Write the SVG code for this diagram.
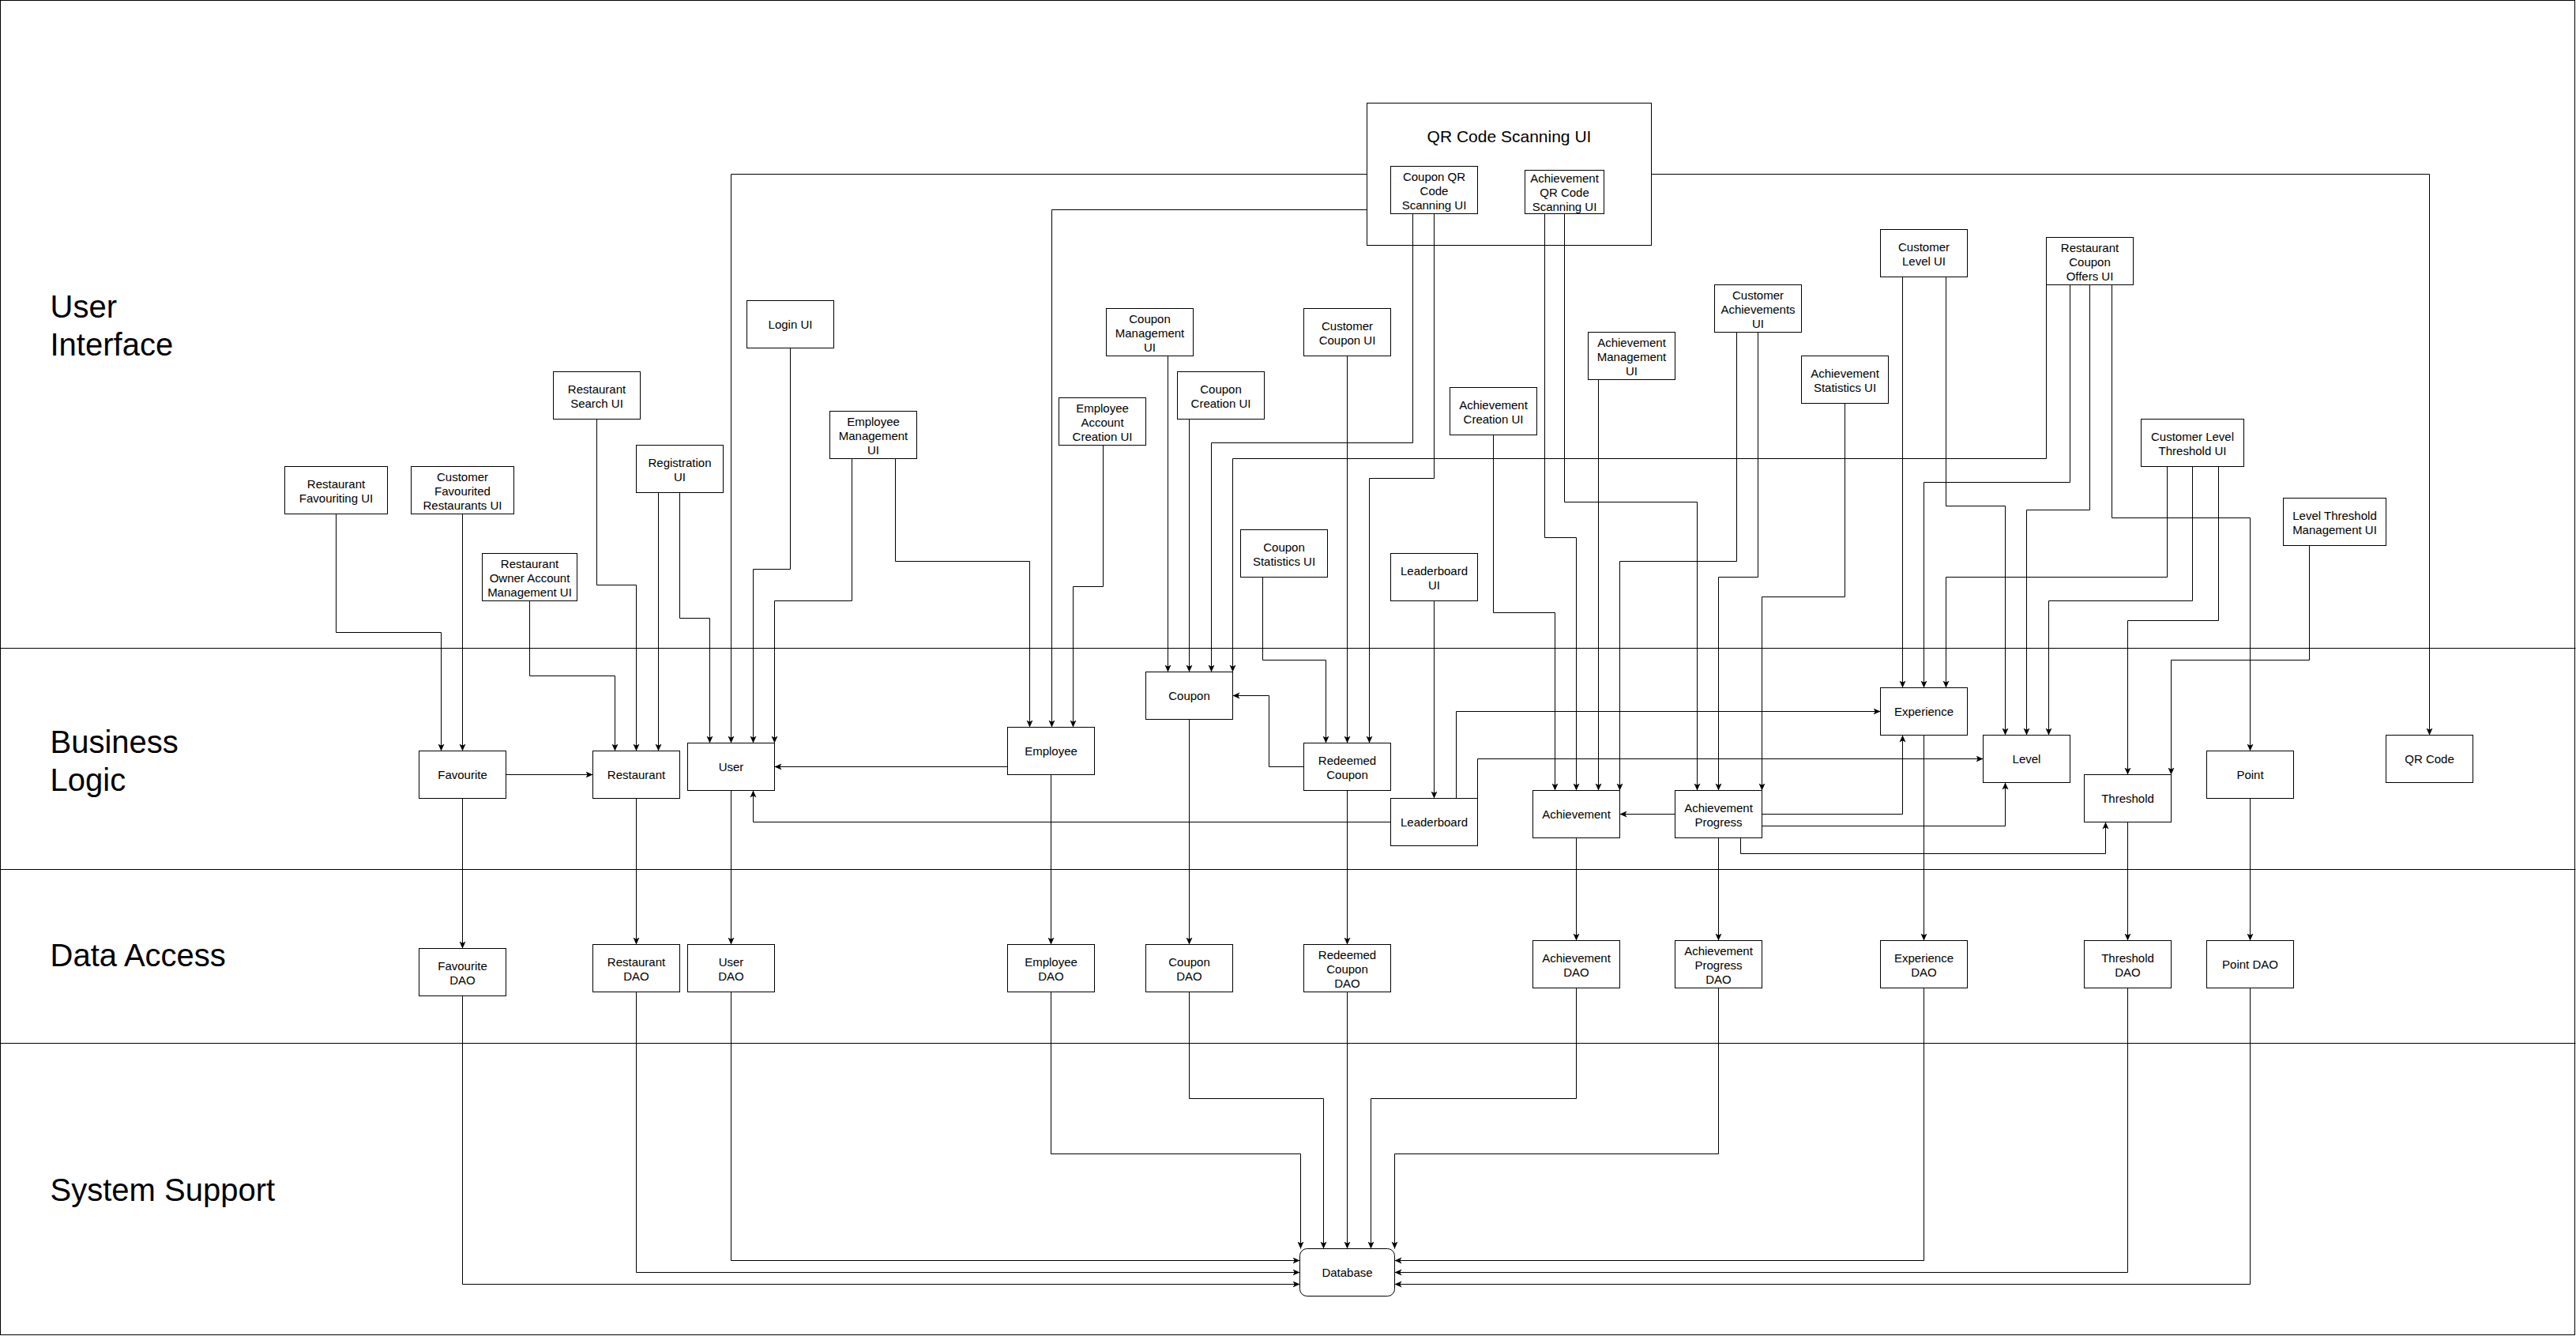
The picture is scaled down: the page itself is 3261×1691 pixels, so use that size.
<svg xmlns="http://www.w3.org/2000/svg" width="3261" height="1691" viewBox="0 0 3261 1691">
<style>
.b{fill:#fff;stroke:#000;stroke-width:1}
.c{fill:none;stroke:#000;stroke-width:1}
.e{fill:none;stroke:#000;stroke-width:1;marker-end:url(#a)}
.l{stroke:#000;stroke-width:1}
.t{font-family:"Liberation Sans",Arial,Helvetica,sans-serif;font-size:15px;text-anchor:middle;dominant-baseline:central;fill:#000}
.h{font-family:"Liberation Sans",Arial,Helvetica,sans-serif;font-size:40px;fill:#000}
.q{font-family:"Liberation Sans",Arial,Helvetica,sans-serif;font-size:21px;text-anchor:middle;dominant-baseline:central;fill:#000}
</style>
<defs>
<marker id="a" viewBox="0 0 10 10" refX="10" refY="5" markerWidth="9" markerHeight="9" markerUnits="userSpaceOnUse" orient="auto"><path d="M0,0.5 L10,5 L0,9.5 L2.5,5 z" fill="#000"/></marker>
</defs>
<rect x="0" y="0" width="3261" height="1691" fill="#fff"/>
<g transform="translate(0.5,0.5)">
<g id="lanes">
<rect x="0" y="0" width="3259" height="1689" class="c"/>
<line x1="0" y1="820" x2="3260" y2="820" class="l"/>
<line x1="0" y1="1100" x2="3260" y2="1100" class="l"/>
<line x1="0" y1="1320" x2="3260" y2="1320" class="l"/>
<text class="h" x="63" y="401">User</text>
<text class="h" x="63" y="449">Interface</text>
<text class="h" x="63" y="952">Business</text>
<text class="h" x="63" y="1000">Logic</text>
<text class="h" x="63" y="1222">Data Access</text>
<text class="h" x="63" y="1519">System Support</text>
</g>
<g id="qr-code-scanning-ui">
<rect x="1730" y="130" width="360" height="180" class="c"/>
<text class="q" x="1910" y="172">QR Code Scanning UI</text>
</g>
<g id="connectors">
<polyline class="e" points="425,650 425,800 558,800 558,950"/>
<polyline class="e" points="585,650 585,950"/>
<polyline class="e" points="670,760 670,855 778,855 778,950"/>
<polyline class="e" points="755,530 755,740 805,740 805,950"/>
<polyline class="e" points="833,623 833,950"/>
<polyline class="e" points="860,623 860,782 898,782 898,940"/>
<polyline class="e" points="1730,220 925,220 925,940"/>
<polyline class="e" points="1000,440 1000,720 953,720 953,940"/>
<polyline class="e" points="1078,580 1078,760 980,760 980,940"/>
<polyline class="e" points="1133,580 1133,710 1303,710 1303,920"/>
<polyline class="e" points="1730,265 1331,265 1331,920"/>
<polyline class="e" points="1396,563 1396,742 1358,742 1358,920"/>
<polyline class="e" points="1478,450 1478,850"/>
<polyline class="e" points="1505,530 1505,850"/>
<polyline class="e" points="1788,270 1788,560 1533,560 1533,850"/>
<polyline class="e" points="2590,360 2590,580 1560,580 1560,850"/>
<polyline class="e" points="1598,730 1598,835 1678,835 1678,940"/>
<polyline class="e" points="1705,450 1705,940"/>
<polyline class="e" points="1815,270 1815,605 1733,605 1733,940"/>
<polyline class="e" points="1815,760 1815,1010"/>
<polyline class="e" points="1890,550 1890,775 1968,775 1968,1000"/>
<polyline class="e" points="1955,270 1955,680 1995,680 1995,1000"/>
<polyline class="e" points="2023,480 2023,1000"/>
<polyline class="e" points="2198,420 2198,710 2050,710 2050,1000"/>
<polyline class="e" points="1980,270 1980,635 2148,635 2148,1000"/>
<polyline class="e" points="2225,420 2225,730 2175,730 2175,1000"/>
<polyline class="e" points="2335,510 2335,755 2230,755 2230,1000"/>
<polyline class="e" points="2408,350 2408,870"/>
<polyline class="e" points="2620,360 2620,610 2435,610 2435,870"/>
<polyline class="e" points="2743,590 2743,730 2463,730 2463,870"/>
<polyline class="e" points="2463,350 2463,640 2538,640 2538,930"/>
<polyline class="e" points="2645,360 2645,645 2565,645 2565,930"/>
<polyline class="e" points="2775,590 2775,760 2593,760 2593,930"/>
<polyline class="e" points="2808,590 2808,785 2693,785 2693,980"/>
<polyline class="e" points="2923,690 2923,835 2748,835 2748,980"/>
<polyline class="e" points="2673,360 2673,655 2848,655 2848,950"/>
<polyline class="e" points="2090,220 3075,220 3075,930"/>
<polyline class="e" points="640,980 750,980"/>
<polyline class="e" points="1275,970 980,970"/>
<polyline class="e" points="1760,1040 953,1040 953,1000"/>
<polyline class="e" points="1650,970 1606,970 1606,880 1560,880"/>
<polyline class="e" points="1843,1010 1843,900 2380,900"/>
<polyline class="e" points="1870,1010 1870,960 2510,960"/>
<polyline class="e" points="2120,1030 2050,1030"/>
<polyline class="e" points="2230,1030 2408,1030 2408,930"/>
<polyline class="e" points="2230,1045 2538,1045 2538,990"/>
<polyline class="e" points="2203,1060 2203,1080 2665,1080 2665,1040"/>
<polyline class="e" points="585,1010 585,1200"/>
<polyline class="e" points="805,1010 805,1195"/>
<polyline class="e" points="925,1000 925,1195"/>
<polyline class="e" points="1330,980 1330,1195"/>
<polyline class="e" points="1505,910 1505,1195"/>
<polyline class="e" points="1705,1000 1705,1195"/>
<polyline class="e" points="1995,1060 1995,1190"/>
<polyline class="e" points="2175,1060 2175,1190"/>
<polyline class="e" points="2435,930 2435,1190"/>
<polyline class="e" points="2693,1040 2693,1190"/>
<polyline class="e" points="2848,1010 2848,1190"/>
<polyline class="e" points="585,1260 585,1625 1645,1625"/>
<polyline class="e" points="805,1255 805,1610 1645,1610"/>
<polyline class="e" points="925,1255 925,1595 1645,1595"/>
<polyline class="e" points="1330,1255 1330,1460 1646,1460 1646,1580"/>
<polyline class="e" points="1505,1255 1505,1390 1675,1390 1675,1580"/>
<polyline class="e" points="1705,1255 1705,1580"/>
<polyline class="e" points="1995,1250 1995,1390 1735,1390 1735,1580"/>
<polyline class="e" points="2175,1250 2175,1460 1765,1460 1765,1580"/>
<polyline class="e" points="2435,1250 2435,1595 1765,1595"/>
<polyline class="e" points="2693,1250 2693,1610 1765,1610"/>
<polyline class="e" points="2848,1250 2848,1625 1765,1625"/>
</g>
<g id="restaurant-favouriting-ui"><rect class="b" x="360" y="590" width="130" height="60"/><text class="t"><tspan x="425" y="611">Restaurant</tspan><tspan x="425" y="629">Favouriting UI</tspan></text></g>
<g id="customer-favourited-restaurants-ui"><rect class="b" x="520" y="590" width="130" height="60"/><text class="t"><tspan x="585" y="602">Customer</tspan><tspan x="585" y="620">Favourited</tspan><tspan x="585" y="638">Restaurants UI</tspan></text></g>
<g id="restaurant-owner-account-management-ui"><rect class="b" x="610" y="700" width="120" height="60"/><text class="t"><tspan x="670" y="712">Restaurant</tspan><tspan x="670" y="730">Owner Account</tspan><tspan x="670" y="748">Management UI</tspan></text></g>
<g id="restaurant-search-ui"><rect class="b" x="700" y="470" width="110" height="60"/><text class="t"><tspan x="755" y="491">Restaurant</tspan><tspan x="755" y="509">Search UI</tspan></text></g>
<g id="registration-ui"><rect class="b" x="805" y="563" width="110" height="60"/><text class="t"><tspan x="860" y="584">Registration</tspan><tspan x="860" y="602">UI</tspan></text></g>
<g id="login-ui"><rect class="b" x="945" y="380" width="110" height="60"/><text class="t" x="1000" y="410">Login UI</text></g>
<g id="employee-management-ui"><rect class="b" x="1050" y="520" width="110" height="60"/><text class="t"><tspan x="1105" y="532">Employee</tspan><tspan x="1105" y="550">Management</tspan><tspan x="1105" y="568">UI</tspan></text></g>
<g id="employee-account-creation-ui"><rect class="b" x="1340" y="503" width="110" height="60"/><text class="t"><tspan x="1395" y="515">Employee</tspan><tspan x="1395" y="533">Account</tspan><tspan x="1395" y="551">Creation UI</tspan></text></g>
<g id="coupon-management-ui"><rect class="b" x="1400" y="390" width="110" height="60"/><text class="t"><tspan x="1455" y="402">Coupon</tspan><tspan x="1455" y="420">Management</tspan><tspan x="1455" y="438">UI</tspan></text></g>
<g id="coupon-creation-ui"><rect class="b" x="1490" y="470" width="110" height="60"/><text class="t"><tspan x="1545" y="491">Coupon</tspan><tspan x="1545" y="509">Creation UI</tspan></text></g>
<g id="customer-coupon-ui"><rect class="b" x="1650" y="390" width="110" height="60"/><text class="t"><tspan x="1705" y="411">Customer</tspan><tspan x="1705" y="429">Coupon UI</tspan></text></g>
<g id="coupon-statistics-ui"><rect class="b" x="1570" y="670" width="110" height="60"/><text class="t"><tspan x="1625" y="691">Coupon</tspan><tspan x="1625" y="709">Statistics UI</tspan></text></g>
<g id="leaderboard-ui"><rect class="b" x="1760" y="700" width="110" height="60"/><text class="t"><tspan x="1815" y="721">Leaderboard</tspan><tspan x="1815" y="739">UI</tspan></text></g>
<g id="coupon-qr-code-scanning-ui"><rect class="b" x="1760" y="210" width="110" height="60"/><text class="t"><tspan x="1815" y="222">Coupon QR</tspan><tspan x="1815" y="240">Code</tspan><tspan x="1815" y="258">Scanning UI</tspan></text></g>
<g id="achievement-qr-code-scanning-ui"><rect class="b" x="1930" y="215" width="100" height="55"/><text class="t"><tspan x="1980" y="224.5">Achievement</tspan><tspan x="1980" y="242.5">QR Code</tspan><tspan x="1980" y="260.5">Scanning UI</tspan></text></g>
<g id="achievement-creation-ui"><rect class="b" x="1835" y="490" width="110" height="60"/><text class="t"><tspan x="1890" y="511">Achievement</tspan><tspan x="1890" y="529">Creation UI</tspan></text></g>
<g id="achievement-management-ui"><rect class="b" x="2010" y="420" width="110" height="60"/><text class="t"><tspan x="2065" y="432">Achievement</tspan><tspan x="2065" y="450">Management</tspan><tspan x="2065" y="468">UI</tspan></text></g>
<g id="customer-achievements-ui"><rect class="b" x="2170" y="360" width="110" height="60"/><text class="t"><tspan x="2225" y="372">Customer</tspan><tspan x="2225" y="390">Achievements</tspan><tspan x="2225" y="408">UI</tspan></text></g>
<g id="achievement-statistics-ui"><rect class="b" x="2280" y="450" width="110" height="60"/><text class="t"><tspan x="2335" y="471">Achievement</tspan><tspan x="2335" y="489">Statistics UI</tspan></text></g>
<g id="customer-level-ui"><rect class="b" x="2380" y="290" width="110" height="60"/><text class="t"><tspan x="2435" y="311">Customer</tspan><tspan x="2435" y="329">Level UI</tspan></text></g>
<g id="restaurant-coupon-offers-ui"><rect class="b" x="2590" y="300" width="110" height="60"/><text class="t"><tspan x="2645" y="312">Restaurant</tspan><tspan x="2645" y="330">Coupon</tspan><tspan x="2645" y="348">Offers UI</tspan></text></g>
<g id="customer-level-threshold-ui"><rect class="b" x="2710" y="530" width="130" height="60"/><text class="t"><tspan x="2775" y="551">Customer Level</tspan><tspan x="2775" y="569">Threshold UI</tspan></text></g>
<g id="level-threshold-management-ui"><rect class="b" x="2890" y="630" width="130" height="60"/><text class="t"><tspan x="2955" y="651">Level Threshold</tspan><tspan x="2955" y="669">Management UI</tspan></text></g>
<g id="favourite"><rect class="b" x="530" y="950" width="110" height="60"/><text class="t" x="585" y="980">Favourite</text></g>
<g id="restaurant"><rect class="b" x="750" y="950" width="110" height="60"/><text class="t" x="805" y="980">Restaurant</text></g>
<g id="user"><rect class="b" x="870" y="940" width="110" height="60"/><text class="t" x="925" y="970">User</text></g>
<g id="employee"><rect class="b" x="1275" y="920" width="110" height="60"/><text class="t" x="1330" y="950">Employee</text></g>
<g id="coupon"><rect class="b" x="1450" y="850" width="110" height="60"/><text class="t" x="1505" y="880">Coupon</text></g>
<g id="redeemed-coupon"><rect class="b" x="1650" y="940" width="110" height="60"/><text class="t"><tspan x="1705" y="961">Redeemed</tspan><tspan x="1705" y="979">Coupon</tspan></text></g>
<g id="leaderboard"><rect class="b" x="1760" y="1010" width="110" height="60"/><text class="t" x="1815" y="1040">Leaderboard</text></g>
<g id="achievement"><rect class="b" x="1940" y="1000" width="110" height="60"/><text class="t" x="1995" y="1030">Achievement</text></g>
<g id="achievement-progress"><rect class="b" x="2120" y="1000" width="110" height="60"/><text class="t"><tspan x="2175" y="1021">Achievement</tspan><tspan x="2175" y="1039">Progress</tspan></text></g>
<g id="experience"><rect class="b" x="2380" y="870" width="110" height="60"/><text class="t" x="2435" y="900">Experience</text></g>
<g id="level"><rect class="b" x="2510" y="930" width="110" height="60"/><text class="t" x="2565" y="960">Level</text></g>
<g id="threshold"><rect class="b" x="2638" y="980" width="110" height="60"/><text class="t" x="2693" y="1010">Threshold</text></g>
<g id="point"><rect class="b" x="2793" y="950" width="110" height="60"/><text class="t" x="2848" y="980">Point</text></g>
<g id="qr-code"><rect class="b" x="3020" y="930" width="110" height="60"/><text class="t" x="3075" y="960">QR Code</text></g>
<g id="favourite-dao"><rect class="b" x="530" y="1200" width="110" height="60"/><text class="t"><tspan x="585" y="1221">Favourite</tspan><tspan x="585" y="1239">DAO</tspan></text></g>
<g id="restaurant-dao"><rect class="b" x="750" y="1195" width="110" height="60"/><text class="t"><tspan x="805" y="1216">Restaurant</tspan><tspan x="805" y="1234">DAO</tspan></text></g>
<g id="user-dao"><rect class="b" x="870" y="1195" width="110" height="60"/><text class="t"><tspan x="925" y="1216">User</tspan><tspan x="925" y="1234">DAO</tspan></text></g>
<g id="employee-dao"><rect class="b" x="1275" y="1195" width="110" height="60"/><text class="t"><tspan x="1330" y="1216">Employee</tspan><tspan x="1330" y="1234">DAO</tspan></text></g>
<g id="coupon-dao"><rect class="b" x="1450" y="1195" width="110" height="60"/><text class="t"><tspan x="1505" y="1216">Coupon</tspan><tspan x="1505" y="1234">DAO</tspan></text></g>
<g id="redeemed-coupon-dao"><rect class="b" x="1650" y="1195" width="110" height="60"/><text class="t"><tspan x="1705" y="1207">Redeemed</tspan><tspan x="1705" y="1225">Coupon</tspan><tspan x="1705" y="1243">DAO</tspan></text></g>
<g id="achievement-dao"><rect class="b" x="1940" y="1190" width="110" height="60"/><text class="t"><tspan x="1995" y="1211">Achievement</tspan><tspan x="1995" y="1229">DAO</tspan></text></g>
<g id="achievement-progress-dao"><rect class="b" x="2120" y="1190" width="110" height="60"/><text class="t"><tspan x="2175" y="1202">Achievement</tspan><tspan x="2175" y="1220">Progress</tspan><tspan x="2175" y="1238">DAO</tspan></text></g>
<g id="experience-dao"><rect class="b" x="2380" y="1190" width="110" height="60"/><text class="t"><tspan x="2435" y="1211">Experience</tspan><tspan x="2435" y="1229">DAO</tspan></text></g>
<g id="threshold-dao"><rect class="b" x="2638" y="1190" width="110" height="60"/><text class="t"><tspan x="2693" y="1211">Threshold</tspan><tspan x="2693" y="1229">DAO</tspan></text></g>
<g id="point-dao"><rect class="b" x="2793" y="1190" width="110" height="60"/><text class="t" x="2848" y="1220">Point DAO</text></g>
<g id="database"><rect class="b" x="1645" y="1580" width="120" height="60" rx="9" ry="9"/><text class="t" x="1705" y="1610">Database</text></g>
</g>
</svg>
